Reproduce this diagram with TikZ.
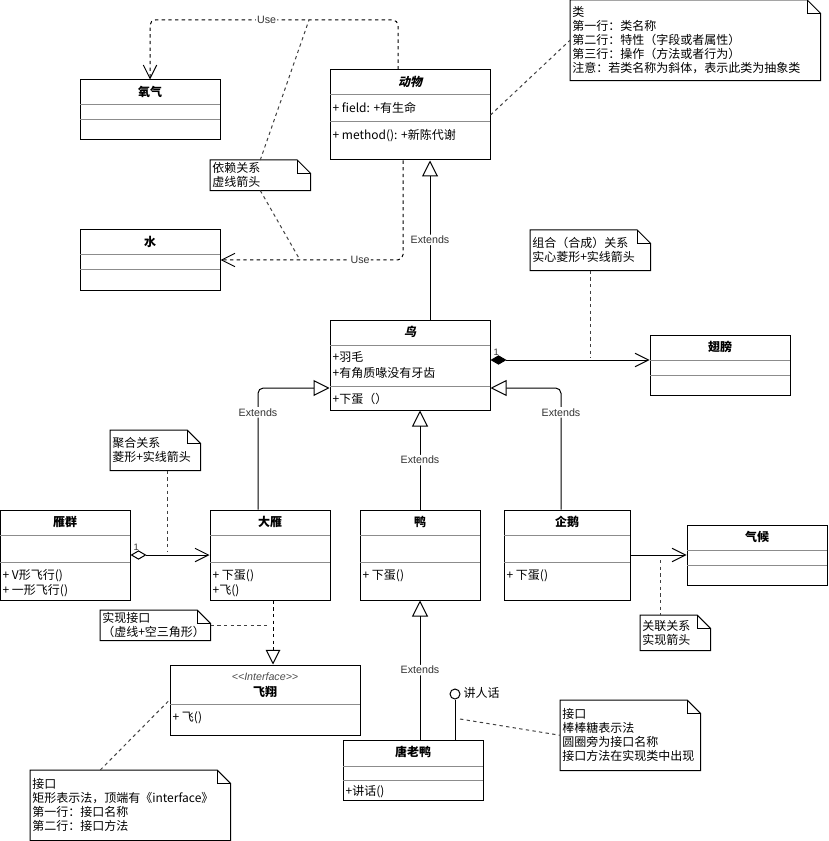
\documentclass[tikz,border=0pt]{standalone}
\usepackage{fontspec}
\setmainfont{Noto Sans CJK SC}
\newfontfamily\slantcjk{Noto Sans CJK SC}[FakeSlant=0.22]
\newfontfamily\latin{Liberation Sans}
\usepackage{tikz}
\usetikzlibrary{arrows.meta,fit,positioning}

\newcommand{\dogear}[1]{%
  \draw[line width=0.75pt] (#1.north west) -- ([xshift=-10pt]#1.north east)
    -- ([yshift=-10pt]#1.north east) -- (#1.south east) -- (#1.south west) -- cycle;
  \draw[line width=0.75pt] ([xshift=-10pt]#1.north east) |- ([yshift=-10pt]#1.north east);}

\tikzset{
  cls/.style={draw, line width=0.75pt, inner sep=0pt},
  sep/.style={draw=black!45, line width=0.75pt},
  cname/.style={inner sep=0pt, font=\bfseries\fontsize{9}{11}\selectfont},
  abstr/.style={inner sep=0pt, font=\slantcjk\bfseries\fontsize{9}{11}\selectfont},
  member/.style={anchor=west, align=left, inner sep=1pt, font=\fontsize{9}{11.5}\selectfont},
  note/.style={anchor=north west, align=left, inner sep=1.5pt, font=\fontsize{9}{10.5}\selectfont},
  lbl/.style={fill=white, inner sep=1pt, text=black!80, font=\latin\fontsize{8}{9}\selectfont},
  num/.style={inner sep=1pt, text=black!80, font=\latin\fontsize{7}{8}\selectfont},
  link/.style={line width=0.75pt, draw=black!75, dash pattern=on 2.5pt off 2.5pt},
  dep/.style={line width=0.75pt, dash pattern=on 2.5pt off 2.5pt, rounded corners=4pt,
    -{Straight Barb[length=10pt,width=10pt]}},
  ext/.style={line width=0.75pt, rounded corners=4pt, -{Triangle[open,length=12pt,width=12pt]}},
  real/.style={line width=0.75pt, dash pattern=on 2.5pt off 2.5pt,
    -{Triangle[open,length=11pt,width=11pt]}},
  assoc/.style={line width=0.75pt, -{Straight Barb[length=10pt,width=10pt]}},
  comp/.style={line width=0.75pt, {Diamond[length=12pt,width=7pt]}-{Straight Barb[length=10pt,width=10pt]}},
  aggr/.style={line width=0.75pt, {Diamond[open,length=12pt,width=7pt]}-{Straight Barb[length=10pt,width=10pt]}}
}

\begin{document}
\begin{tikzpicture}[x=0.75pt,y=-0.75pt]
\useasboundingbox (0,0) rectangle (828,841);

% classes
\node[cls, fit={(80,80)(220,140)}] (yangqi) {};
\node[cname] (yangqi-n) at (150,92) {氧气};
\draw[sep] (80,105) -- (220,105) (80,120) -- (220,120);

\node[cls, fit={(80,230)(220,290)}] (shui) {};
\node[cname] (shui-n) at (150,242) {水};
\draw[sep] (80,255) -- (220,255) (80,270) -- (220,270);

\node[cls, fit={(330,70)(490,160)}] (dongwu) {};
\node[abstr] (dongwu-n) at (410,82) {动物};
\draw[sep] (330,95) -- (490,95) (330,122) -- (490,122);
\node[member] (dongwu-a) at (331,108) {+ field: +有生命};
\node[member] (dongwu-m) at (331,136) {+ method(): +新陈代谢};

\node[cls, fit={(330,320)(490,410)}] (niao) {};
\node[abstr] (niao-n) at (410,332) {鸟};
\draw[sep] (330,345) -- (490,345) (330,386) -- (490,386);
\node[member] (niao-a) at (331,365) {+羽毛\\+有角质喙没有牙齿};
\node[member] (niao-m) at (331,399) {+下蛋（）};

\node[cls, fit={(650,335)(790,395)}] (chibang) {};
\node[cname] (chibang-n) at (720,347) {翅膀};
\draw[sep] (650,360) -- (790,360) (650,375) -- (790,375);

\node[cls, fit={(0,510)(130,600)}] (yanqun) {};
\node[cname] (yanqun-n) at (65,522) {雁群};
\draw[sep] (0,535) -- (130,535) (0,562) -- (130,562);
\node[member] (yanqun-m) at (1,583) {+ V形飞行()\\+ 一形飞行()};

\node[cls, fit={(210,510)(330,600)}] (dayan) {};
\node[cname] (dayan-n) at (270,522) {大雁};
\draw[sep] (210,535) -- (330,535) (210,562) -- (330,562);
\node[member] (dayan-m) at (211,583) {+ 下蛋()\\+飞()};

\node[cls, fit={(360,510)(480,600)}] (ya) {};
\node[cname] (ya-n) at (420,522) {鸭};
\draw[sep] (360,535) -- (480,535) (360,562) -- (480,562);
\node[member] (ya-m) at (361,576) {+ 下蛋()};

\node[cls, fit={(504,510)(630,600)}] (qie) {};
\node[cname] (qie-n) at (567,522) {企鹅};
\draw[sep] (504,535) -- (630,535) (504,562) -- (630,562);
\node[member] (qie-m) at (505,576) {+ 下蛋()};

\node[cls, fit={(687,525)(827,585)}] (qihou) {};
\node[cname] (qihou-n) at (757,537) {气候};
\draw[sep] (687,550) -- (827,550) (687,565) -- (827,565);

\node[cls, fit={(170,665)(360,735)}] (feixiang) {};
\node[inner sep=0pt, text=black!70, font=\latin\itshape\fontsize{8}{9}\selectfont] (feixiang-s) at (265,677) {<{}<Interface>{}>};
\node[cname] (feixiang-n) at (265,692) {飞翔};
\draw[sep] (170,704) -- (360,704);
\node[member] (feixiang-m) at (171,718) {+ 飞()};

\node[cls, fit={(343,740)(483,800)}] (tanglaoya) {};
\node[cname] (tanglaoya-n) at (413,752) {唐老鸭};
\draw[sep] (343,766) -- (483,766) (343,780) -- (483,780);
\node[member] (tanglaoya-m) at (344,792) {+讲话()};

\node[circle, draw, line width=0.75pt, minimum size=7.5pt, inner sep=0pt] (lolly) at (455,694) {};
\node[anchor=west, inner sep=1pt, font=\fontsize{9}{11}\selectfont] (lolly-l) at (462,693) {讲人话};
\draw[line width=0.75pt] (lolly.south) -- (lolly.south |- tanglaoya.north);

% notes
\node[note, minimum width=187.5pt, minimum height=60pt, text width=184.5pt] (n-lei) at (570,0)
  {类\\第一行：类名称\\第二行：特性（字段或者属性）\\第三行：操作（方法或者行为）\\注意：若类名称为斜体，表示此类为抽象类};
\dogear{n-lei}
\node[note, minimum width=75pt, minimum height=22.5pt, text width=72pt] (n-dep) at (210,160)
  {依赖关系\\虚线箭头};
\dogear{n-dep}
\node[note, minimum width=90pt, minimum height=30pt, text width=87pt] (n-zh) at (530,230)
  {组合（合成）关系\\实心菱形+实线箭头};
\dogear{n-zh}
\node[note, minimum width=67.5pt, minimum height=30pt, text width=64.5pt] (n-jh) at (110,430)
  {聚合关系\\菱形+实线箭头};
\dogear{n-jh}
\node[note, minimum width=82.5pt, minimum height=22.5pt, text width=79.5pt] (n-sx) at (100,610)
  {实现接口\\（虚线+空三角形）};
\dogear{n-sx}
\node[note, minimum width=52.5pt, minimum height=26.25pt, text width=49.5pt] (n-gl) at (640,615)
  {关联关系\\实现箭头};
\dogear{n-gl}
\node[note, minimum width=150pt, minimum height=52.5pt, text width=147pt] (n-jk1) at (30,770)
  {接口\\矩形表示法，顶端有《interface》\\第一行：接口名称\\第二行：接口方法};
\dogear{n-jk1}
\node[note, minimum width=105pt, minimum height=52.5pt, text width=102pt] (n-jk2) at (560,700)
  {接口\\棒棒糖表示法\\圆圈旁为接口名称\\接口方法在实现类中出现};
\dogear{n-jk2}

% relations
\draw[dep] ([xshift=-9pt]dongwu.north) -- (398,20) -- (150,20) node[lbl, pos=0.53] {Use} -- (yangqi.north);
\draw[dep] ([xshift=-5.25pt]dongwu.south) -- (403,260) -- (shui.east) node[lbl, pos=0.235] {Use};
\draw[link] (n-dep.north) -- (309,20);
\draw[link] (n-dep.south) -- (300,260);
\draw[link] (dongwu.east) -- (n-lei.west);

\draw[ext] ([xshift=15pt]niao.north) -- ([xshift=15pt]dongwu.south) node[lbl, midway] {Extends};
\draw[comp] ([yshift=3.75pt]niao.east) -- ([yshift=3.75pt]chibang.west) node[num, pos=0, anchor=south west, xshift=1pt, yshift=2pt] {1};
\coordinate (zh) at (590,358);
\draw[link] (zh |- n-zh.south) -- (zh);

\draw[ext] ([xshift=-9pt]dayan.north) |- ([yshift=-17.25pt]niao.west) node[lbl, pos=0.4] {Extends};
\draw[ext] (ya.north) -- (ya.north |- niao.south) node[lbl, midway] {Extends};
\draw[ext] ([xshift=-4.5pt]qie.north) |- ([yshift=-17.25pt]niao.east) node[lbl, pos=0.4] {Extends};

\draw[aggr] (yanqun.east) -- (dayan.west) node[num, pos=0, anchor=south west, xshift=1pt, yshift=2pt] {1};
\coordinate (jh) at (167,552);
\draw[link] (jh |- n-jh.south) -- (jh);

\draw[assoc] (qie.east) -- (qihou.west);
\coordinate (gl) at (660,560);
\draw[link] (gl) -- (gl |- n-gl.north);

\draw[real] ([xshift=2.25pt]dayan.south) -- ([xshift=2.25pt]dayan.south |- feixiang.north);
\draw[link] (n-sx.east) -- (n-sx.east -| dayan.south);
\draw[link] ([xshift=-22.5pt]n-jk1.north) -- (feixiang.west);

\draw[ext] (ya.south |- tanglaoya.north) -- (ya.south) node[lbl, midway] {Extends};
\coordinate (bb) at (460,719);
\draw[link] (bb) -- (n-jk2.west);
\end{tikzpicture}
\end{document}
